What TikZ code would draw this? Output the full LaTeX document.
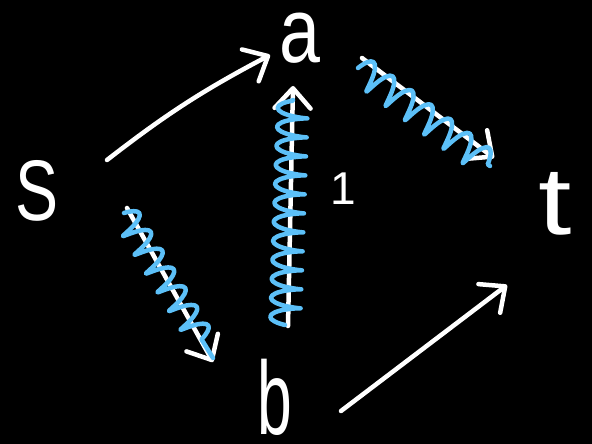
\documentclass[tikz,border=0pt]{standalone}
\usepackage{fontspec}
\setmainfont{Liberation Sans}
\usetikzlibrary{arrows.meta,decorations.pathmorphing,calc}
\definecolor{flow}{RGB}{92,192,248}
\begin{document}
\begin{tikzpicture}[x=1pt,y=-1pt,line cap=round,line join=round,
  lab/.style={text=white,inner sep=0pt},
  arr/.style={draw=white,line width=4.5pt,-{Straight Barb[length=20pt,width=36pt,round]}},
  flowA/.style={draw=flow,line width=4.5pt,decorate,decoration={coil,aspect=0.2,amplitude=13pt,segment length=22pt}},
  flowB/.style={draw=flow,line width=4.5pt,decorate,decoration={coil,aspect=0.2,amplitude=15pt,segment length=19pt}},
  flowC/.style={draw=flow,line width=4.5pt,decorate,decoration={coil,aspect=0.2,amplitude=14pt,segment length=24pt}}]
\fill[black] (0,0) rectangle (592,444);
\useasboundingbox (0,0) rectangle (592,444);
\node[lab] (S) at (37,191) {\fontsize{86}{86}\selectfont\scalebox{0.75}[1]{S}};
\node[lab] (a) at (300,38) {\fontsize{92}{92}\selectfont\scalebox{0.8}[1]{a}};
\node[lab] (b) at (275,397) {\fontsize{104}{104}\selectfont\scalebox{0.6}[1]{b}};
\node[lab] (t) at (555,204) {\fontsize{96}{96}\selectfont\scalebox{1.25}[1]{t}};
\node[lab] (one) at (343,189) {\fontsize{46}{46}\selectfont 1};
% white arrows
\draw[arr] ($(S)+(70,-31)$) to[bend left=5] ($(a)+(-30,17)$);
\draw[arr] ($(S)+(90,17)$) -- ($(b)+(-62,-35)$);
\draw[arr] ($(b)+(13,-71)$) -- ($(a)+(-7,48)$);
\draw[arr] ($(a)+(62,20)$) -- ($(t)+(-61,-46)$);
\draw[arr] ($(b)+(66,14)$) -- ($(t)+(-48,81)$);
% blue flows
\draw[flowA] ($(S)+(87,22)$) -- ($(b)+(-62,-39)$);
\draw[flowB] ($(b)+(10,-72)$) -- ($(a)+(-7,62)$);
\draw[flowC] ($(a)+(58,30)$) -- ($(t)+(-65,-38)$);
\end{tikzpicture}
\end{document}
